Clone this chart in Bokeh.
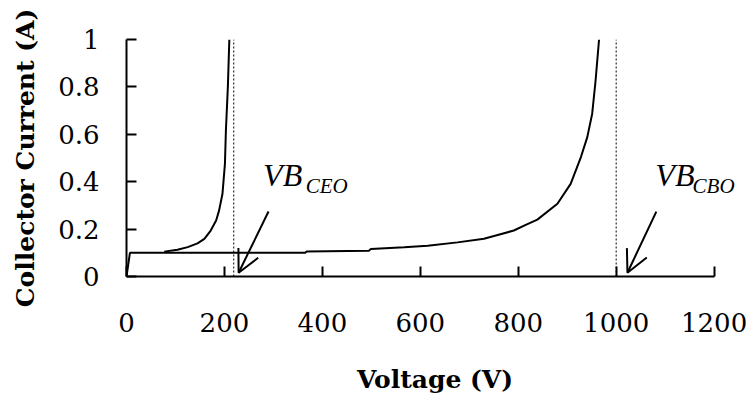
from bokeh.plotting import figure
from bokeh.models import Range1d, FixedTicker, Label, Arrow, OpenHead
from bokeh.embed import file_html
from bokeh.resources import INLINE

# ---- data ----
x_ticks = [0, 200, 400, 600, 800, 1000, 1200]
y_ticks = [0, 0.2, 0.4, 0.6, 0.8, 1.0]
y_tick_labels = ["0", "0.2", "0.4", "0.6", "0.8", "1"]

# VB_CEO breakdown curve
vceo_v = [77, 104, 125, 145, 159, 172, 183, 189, 196, 201, 203, 207, 210]
vceo_i = [0.105, 0.113, 0.124, 0.14, 0.159, 0.194, 0.236, 0.278, 0.349, 0.475, 0.616, 0.8, 1.0]

# VB_CBO breakdown curve
vcbo_v = [0, 7, 365, 368, 495, 499, 567, 615, 676, 730, 758, 791, 812, 839, 880, 907, 928, 941, 951, 958, 965]
vcbo_i = [0, 0.1, 0.1, 0.106, 0.109, 0.116, 0.123, 0.13, 0.144, 0.159, 0.175, 0.194, 0.215, 0.24, 0.307,
          0.391, 0.504, 0.588, 0.687, 0.828, 1.0]

# breakdown voltage markers
breakdown_v = [219, 1000]
marker_names = ["CEO", "CBO"]

LABEL_FONT = "Liberation Serif"
AXIS_FONT = "DejaVu Serif"

p = figure(width=751, height=404, output_backend="svg", toolbar_location=None,
           x_range=Range1d(0, 1260), y_range=Range1d(0, 1),
           min_border_left=126, min_border_right=8, min_border_top=39, min_border_bottom=128)
p.outline_line_color = None
p.xgrid.grid_line_color = None
p.ygrid.grid_line_color = None

for ax in (p.xaxis[0], p.yaxis[0]):
    ax.axis_line_width = 2
    ax.axis_line_color = "black"
    ax.major_tick_in = 10
    ax.major_tick_out = 0
    ax.major_tick_line_width = 2
    ax.major_tick_line_color = "black"
    ax.minor_tick_line_color = None
    ax.major_label_text_font = AXIS_FONT
    ax.major_label_text_font_size = "26px"
    ax.major_label_text_color = "black"
    ax.axis_label_text_font = AXIS_FONT
    ax.axis_label_text_font_size = "25px"
    ax.axis_label_text_font_style = "bold"
    ax.axis_label_text_color = "black"

p.xaxis.bounds = (0, 1200)
p.xaxis.ticker = FixedTicker(ticks=x_ticks)
p.yaxis.ticker = FixedTicker(ticks=y_ticks)
p.yaxis.major_label_overrides = {t: l for t, l in zip(y_ticks, y_tick_labels)}
p.xaxis.axis_label = "Voltage (V)"
p.yaxis.axis_label = "Collector Current (A)"
p.xaxis.major_label_standoff = 36
p.xaxis.axis_label_standoff = 30
p.yaxis.major_label_standoff = 27
p.yaxis.axis_label_standoff = 15

# dotted breakdown lines
p.segment(x0=breakdown_v, y0=[0, 0], x1=breakdown_v, y1=[1, 1],
          line_color="black", line_width=1, line_dash="2 2")

# curves
p.line(vceo_v, vceo_i, line_color="black", line_width=2)
p.line(vcbo_v, vcbo_i, line_color="black", line_width=2)

# annotations: (VB x, subscript x, arrow start x, arrow end x)
ann = [(279, 366, 290, 229), (1080, 1156, 1082, 1023)]
for name, (xv, xs, xa0, xa1) in zip(marker_names, ann):
    p.add_layout(Label(x=xv, y=0.354, text="VB", text_font=LABEL_FONT, text_font_size="32px",
                       text_font_style="italic", text_color="black"))
    p.add_layout(Label(x=xs, y=0.333, text=name, text_font=LABEL_FONT, text_font_size="21px",
                       text_font_style="italic", text_color="black"))
    p.add_layout(Arrow(x_start=xa0, y_start=0.274, x_end=xa1, y_end=0.016,
                       line_width=2, line_color="black",
                       end=OpenHead(size=22, line_width=2, line_color="black")))

open("out.html", "w").write(file_html(p, INLINE))
